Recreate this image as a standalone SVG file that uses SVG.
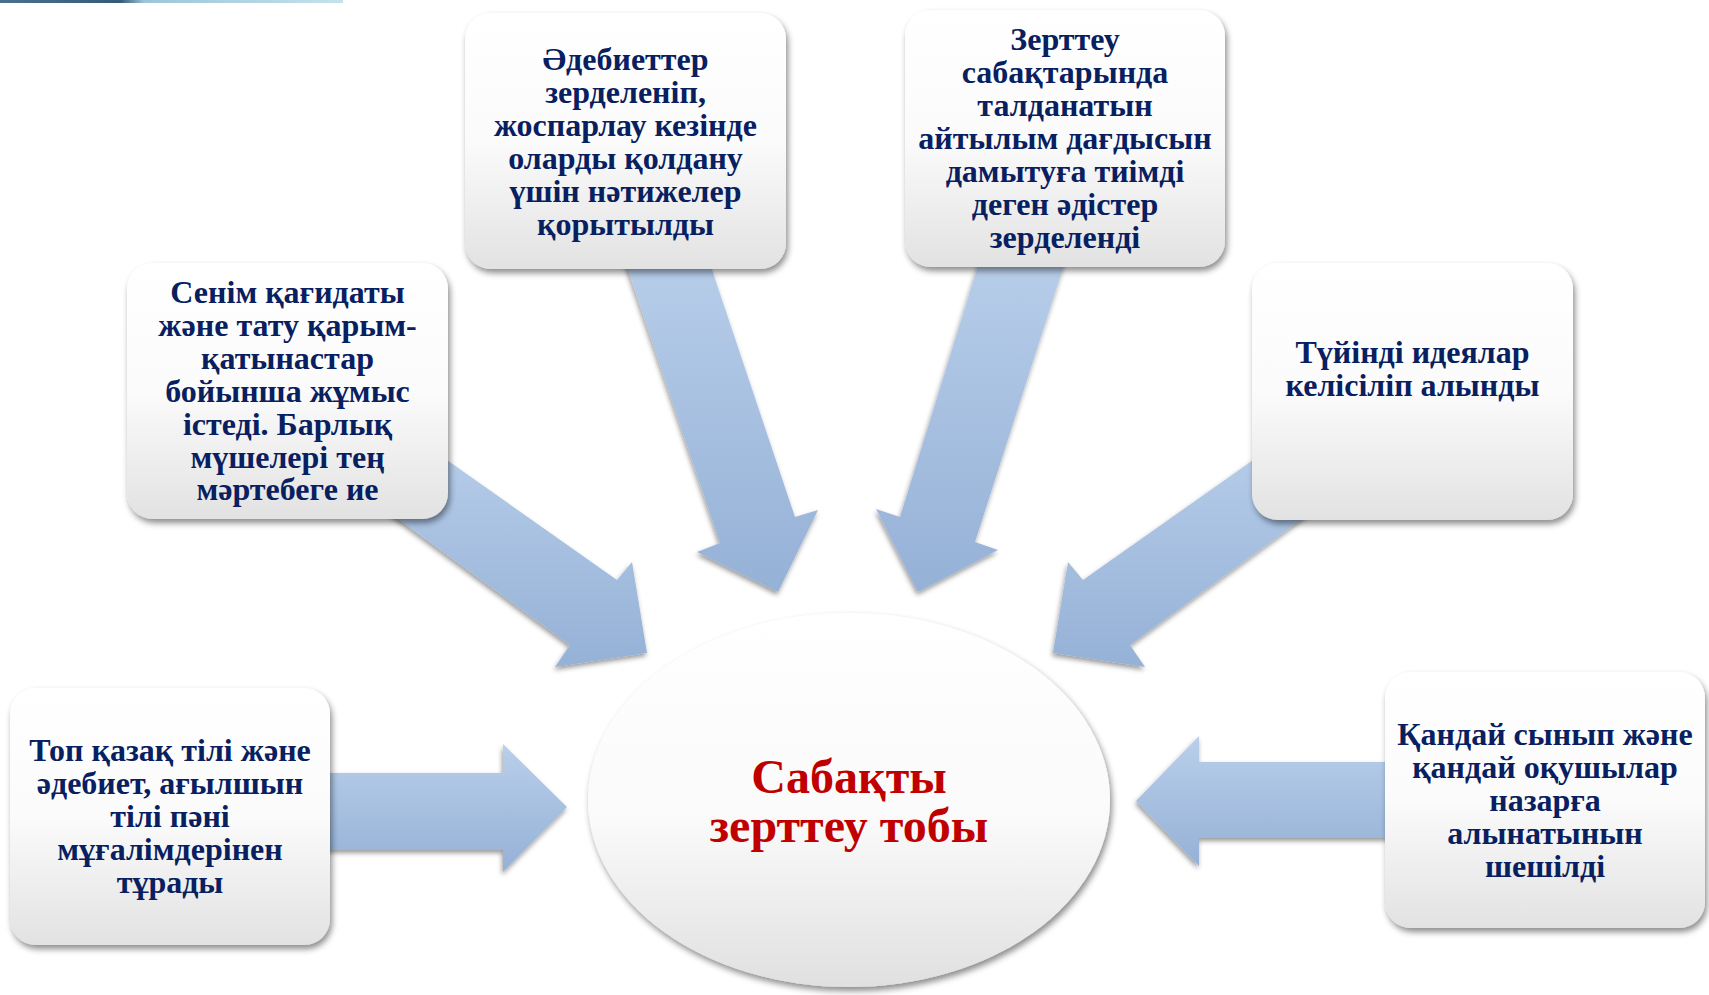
<svg xmlns="http://www.w3.org/2000/svg" width="1709" height="995" viewBox="0 0 1709 995">
<defs>
<style>
.box{fill:url(#boxGrad);filter:url(#sh);}
.arr{fill:url(#arrGrad);filter:url(#ash);}
.t{font-family:"Liberation Serif","Times New Roman",serif;font-weight:bold;font-size:32px;fill:#082060;text-anchor:middle;}
.c{font-family:"Liberation Serif","Times New Roman",serif;font-weight:bold;font-size:48px;fill:#c00000;text-anchor:middle;}
</style>
<linearGradient id="boxGrad" x1="0" y1="0" x2="0" y2="1">
<stop offset="0" stop-color="#ffffff"/>
<stop offset="0.5" stop-color="#fbfbfb"/>
<stop offset="1" stop-color="#e2e2e2"/>
</linearGradient>
<linearGradient id="ellGrad" x1="0" y1="0" x2="0" y2="1">
<stop offset="0" stop-color="#ffffff"/>
<stop offset="0.55" stop-color="#fafafa"/>
<stop offset="1" stop-color="#e0e0e0"/>
</linearGradient>
<linearGradient id="arrGrad" x1="0" y1="0" x2="0" y2="1">
<stop offset="0" stop-color="#b9cfeb"/>
<stop offset="1" stop-color="#95b1d6"/>
</linearGradient>
<linearGradient id="barGrad" x1="0" y1="0" x2="1" y2="0">
<stop offset="0" stop-color="#4a7090"/>
<stop offset="0.35" stop-color="#35597a"/>
<stop offset="0.42" stop-color="#9cc6d8"/>
<stop offset="1" stop-color="#c4e2ec"/>
</linearGradient>
<filter id="sh" x="-10%" y="-10%" width="125%" height="130%">
<feDropShadow dx="2" dy="4" stdDeviation="3" flood-color="#000" flood-opacity="0.45"/>
</filter>
<filter id="ash" x="-10%" y="-10%" width="125%" height="125%">
<feDropShadow dx="-1" dy="3" stdDeviation="2.5" flood-color="#000" flood-opacity="0.4"/>
</filter>
</defs>
<rect x="0" y="0" width="1709" height="995" fill="#ffffff"/>
<rect x="0" y="0" width="343" height="3" fill="url(#barGrad)"/>

<g id="connectors">
<polygon class="arr" points="400,427 617,580 632,562 647,653 555,667 570,645 360,491"/>
<polygon class="arr" points="618,240 702,240 795,517 818,510 778,592 697,552 720,543"/>
<polygon class="arr" points="986,240 1072,240 975,542 998,550 918,592 876,509 900,517"/>
<polygon class="arr" points="1300,427 1083,580 1068,562 1053,653 1145,667 1130,645 1340,491"/>
<polygon class="arr" points="300,773 503,773 503,744 567,807 503,872 503,850 300,850"/>
<polygon class="arr" points="1410,762 1199,762 1199,736 1136,801 1199,866 1199,838 1410,838"/>
</g>

<g id="center">
<ellipse cx="849" cy="800" rx="261" ry="187" fill="url(#ellGrad)" filter="url(#sh)"/>
<text class="c" x="849" y="793">Сабақты</text>
<text class="c" x="849" y="842">зерттеу тобы</text>
</g>

<g id="node-senim">
<rect class="box" x="127" y="263" width="321" height="256" rx="26"/>
<text class="t" x="287.5"><tspan x="287.5" y="303">Сенім қағидаты</tspan><tspan x="287.5" y="336">және тату қарым-</tspan><tspan x="287.5" y="369">қатынастар</tspan><tspan x="287.5" y="402">бойынша жұмыс</tspan><tspan x="287.5" y="435">істеді. Барлық</tspan><tspan x="287.5" y="468">мүшелері тең</tspan><tspan x="287.5" y="500">мәртебеге ие</tspan></text>
</g>

<g id="node-adebietter">
<rect class="box" x="465" y="13" width="321" height="256" rx="26"/>
<text class="t" x="625.5"><tspan x="625.5" y="70">Әдебиеттер</tspan><tspan x="625.5" y="103">зерделеніп,</tspan><tspan x="625.5" y="136">жоспарлау кезінде</tspan><tspan x="625.5" y="169">оларды қолдану</tspan><tspan x="625.5" y="202">үшін нәтижелер</tspan><tspan x="625.5" y="235">қорытылды</tspan></text>
</g>

<g id="node-zerttey">
<rect class="box" x="905" y="10" width="320" height="257" rx="26"/>
<text class="t" x="1065"><tspan x="1065" y="50">Зерттеу</tspan><tspan x="1065" y="83">сабақтарында</tspan><tspan x="1065" y="116">талданатын</tspan><tspan x="1065" y="149">айтылым дағдысын</tspan><tspan x="1065" y="182">дамытуға тиімді</tspan><tspan x="1065" y="215">деген әдістер</tspan><tspan x="1065" y="248">зерделенді</tspan></text>
</g>

<g id="node-tuyindi">
<rect class="box" x="1252" y="263" width="321" height="257" rx="26"/>
<text class="t" x="1412.5"><tspan x="1412.5" y="363">Түйінді идеялар</tspan><tspan x="1412.5" y="396">келісіліп алынды</tspan></text>
</g>

<g id="node-top">
<rect class="box" x="10" y="688" width="320" height="257" rx="26"/>
<text class="t" x="170"><tspan x="170" y="761">Топ қазақ тілі және</tspan><tspan x="170" y="794">әдебиет, ағылшын</tspan><tspan x="170" y="827">тілі пәні</tspan><tspan x="170" y="860">мұғалімдерінен</tspan><tspan x="170" y="893">тұрады</tspan></text>
</g>

<g id="node-qanday">
<rect class="box" x="1385" y="672" width="320" height="256" rx="26"/>
<text class="t" x="1545"><tspan x="1545" y="745">Қандай сынып және</tspan><tspan x="1545" y="778">қандай оқушылар</tspan><tspan x="1545" y="811">назарға</tspan><tspan x="1545" y="844">алынатынын</tspan><tspan x="1545" y="877">шешілді</tspan></text>
</g>
</svg>
